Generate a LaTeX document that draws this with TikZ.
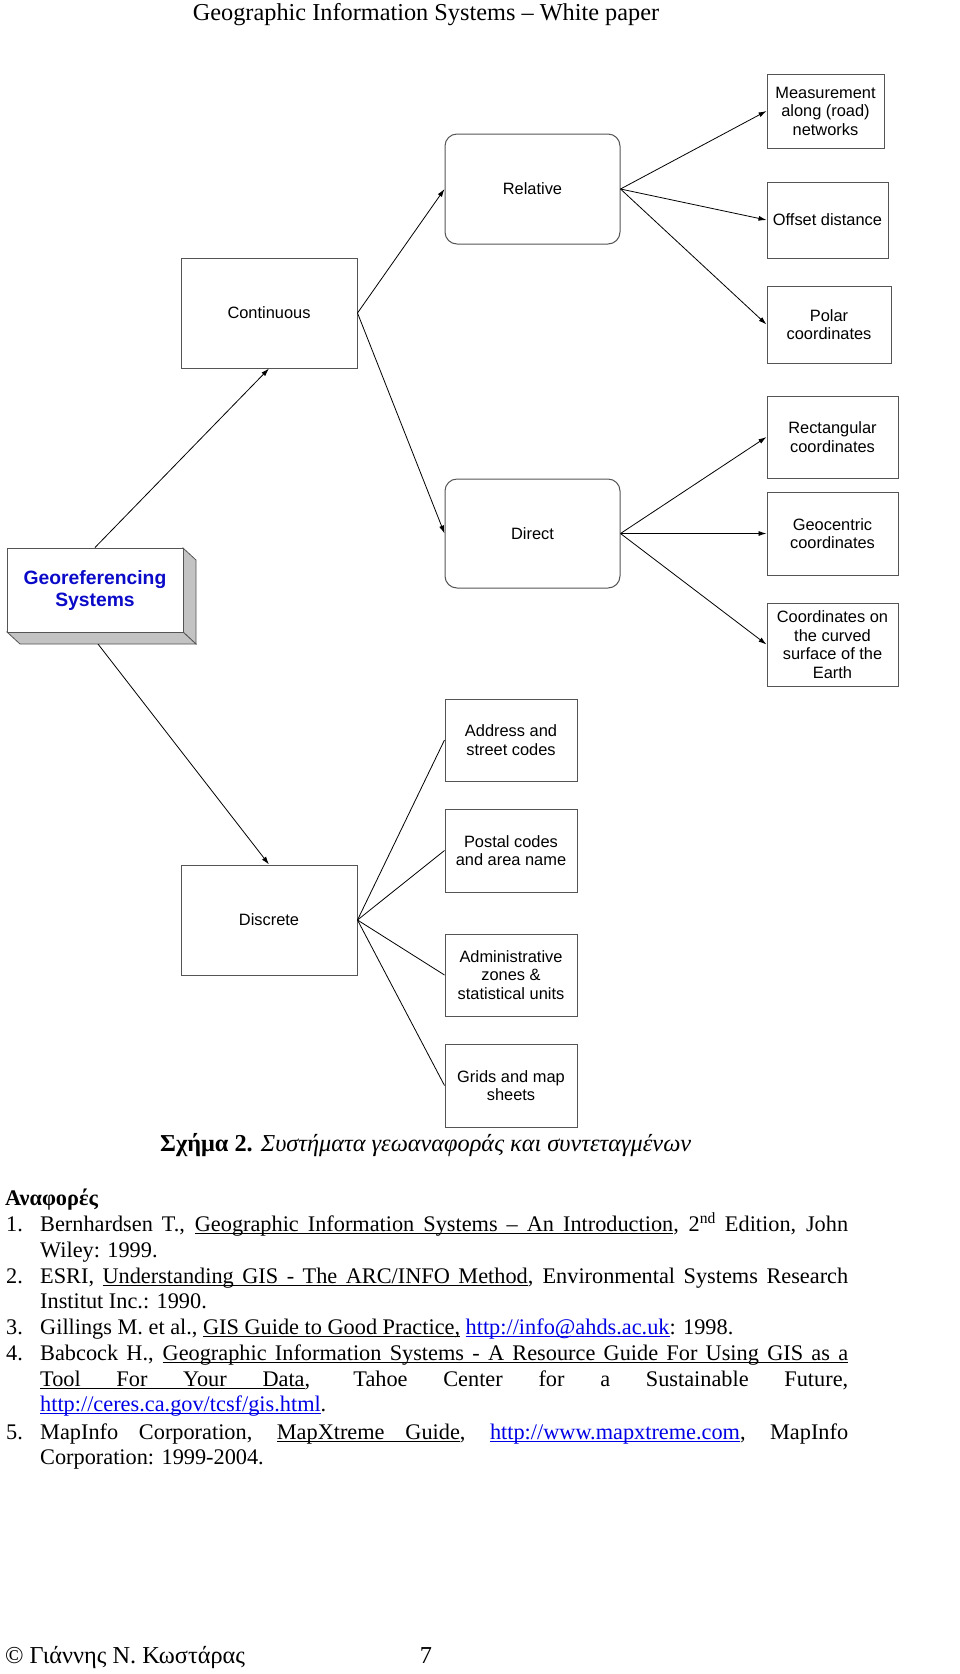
\documentclass[tikz,border=0pt]{standalone}
\usepackage{fontspec}
\setmainfont{Liberation Serif}
\newfontfamily\arialf{Liberation Sans}
\usetikzlibrary{arrows.meta}
\definecolor{linkblue}{RGB}{0,0,230}
\definecolor{georefblue}{RGB}{10,10,200}
\definecolor{boxgray}{RGB}{85,85,85}
\definecolor{sidegray}{RGB}{195,195,195}
% home-made underline that stretches with the spaces
\newcommand\ulw[1]{\setbox0\hbox{#1}\rlap{\rule[-3pt]{\wd0}{1pt}}\box0\relax}
\newcommand\ulspace{\leaders\hrule height -2pt depth 3pt\hskip\fontdimen2\font plus\fontdimen3\font minus\fontdimen4\font\relax}
\def\ulsplit#1 #2\relax{\ulw{#1}\ifx\relax#2\relax\else\ulspace\ulsplit#2\relax\fi}
\newcommand\myul[1]{\leavevmode\ulsplit#1 \relax}
\begin{document}
\begin{tikzpicture}[x=1pt,y=-1pt,
  box/.style={draw=boxgray, line width=1pt, fill=white, align=center,
    font=\arialf\fontsize{16.4}{18.5}\selectfont, inner sep=0pt, anchor=center},
  rbox/.style={box, rounded corners=12pt},
  conn/.style={line width=0.8pt, draw=black},
  arr/.style={conn, -{Latex[length=8pt,width=5pt]}},
  body/.style={anchor=base west, inner sep=0pt, font=\fontsize{22.3}{25.7}\selectfont},
  big/.style={inner sep=0pt, font=\fontsize{24.3}{28}\selectfont},
  ]
\useasboundingbox[fill=white] (0,0) rectangle (960,1674);

% header
\node[big, anchor=base] (hdr) at (426,20) {Geographic Information Systems – White paper};

% boxes
\node[rbox, minimum width=175pt, minimum height=110pt] (rel) at (532.5,189) {Relative};
\node[box, minimum width=176pt, minimum height=110pt] (cont) at (269,313) {Continuous};
\node[box, minimum width=117pt, minimum height=74pt] (meas) at (825.5,111) {Measurement\\along (road)\\networks};
\node[box, minimum width=121pt, minimum height=76pt] (off) at (827.5,220) {Offset distance};
\node[box, minimum width=124pt, minimum height=77pt] (polar) at (829,324.5) {Polar\\coordinates};
\node[box, minimum width=131pt, minimum height=82pt] (rect) at (832.5,437) {Rectangular\\coordinates};
\node[box, minimum width=131pt, minimum height=83pt] (geoc) at (832.5,533.5) {Geocentric\\coordinates};
\node[box, minimum width=131pt, minimum height=83pt] (curved) at (832.5,644.5) {Coordinates on\\the curved\\surface of the\\Earth};
\node[rbox, minimum width=175pt, minimum height=109pt] (direct) at (532.5,533.5) {Direct};

% georeferencing 3D box
\fill[sidegray, draw=boxgray, line width=0.8pt] (183,548) -- (196,560) -- (196,644) -- (183,632) -- cycle;
\fill[sidegray, draw=boxgray, line width=0.8pt] (7,632) -- (183,632) -- (196,644) -- (20,644) -- cycle;
\node[box, minimum width=176pt, minimum height=84pt, text=georefblue,
  font=\arialf\bfseries\fontsize{19.3}{22}\selectfont] (georef) at (95,590) {Georeferencing\\Systems};
\coordinate (gbot) at (98,644);

\node[box, minimum width=132pt, minimum height=82pt] (addr) at (511,740) {Address and\\street codes};
\node[box, minimum width=132pt, minimum height=83pt] (postal) at (511,850.5) {Postal codes\\and area name};
\node[box, minimum width=176pt, minimum height=110pt] (disc) at (269,920) {Discrete};
\node[box, minimum width=132pt, minimum height=82pt] (admin) at (511,975) {Administrative\\zones \&\\statistical units};
\node[box, minimum width=132pt, minimum height=83pt] (grids) at (511,1085.5) {Grids and map\\sheets};

% connectors
\draw[arr] (georef.north) -- (cont.south);
\draw[arr] (gbot) -- (disc.north);
\draw[arr] (cont.east) -- (rel.west);
\draw[arr] (cont.east) -- (direct.west);
\draw[arr] (rel.east) -- (meas.west);
\draw[arr] (rel.east) -- (off.west);
\draw[arr] (rel.east) -- (polar.west);
\draw[arr] (direct.east) -- (rect.west);
\draw[arr] (direct.east) -- (geoc.west);
\draw[arr] (direct.east) -- (curved.west);
\draw[conn] (disc.east) -- (addr.west);
\draw[conn] (disc.east) -- (postal.west);
\draw[conn] (disc.east) -- (admin.west);
\draw[conn] (disc.east) -- (grids.west);

% caption
\node[big, anchor=base west] (cap) at (160,1151) {\textbf{Σχήμα 2.} \textit{Συστήματα γεωαναφοράς και συντεταγμένων}};

% references
\node[body] (refh) at (5,1205) {\textbf{Αναφορές}};
\node[body] (n1) at (6,1231) {1.};
\node[body] (r1a) at (40,1231) {\makebox[808pt][s]{Bernhardsen T., \myul{Geographic Information Systems – An Introduction}, 2\textsuperscript{nd} Edition, John}};
\node[body] (r1b) at (40,1257) {Wiley: 1999.};
\node[body] (n2) at (6,1283) {2.};
\node[body] (r2a) at (40,1283) {\makebox[808pt][s]{ESRI, \myul{Understanding GIS - The ARC/INFO Method}, Environmental Systems Research}};
\node[body] (r2b) at (40,1308) {Institut Inc.: 1990.};
\node[body] (n3) at (6,1334) {3.};
\node[body] (r3a) at (40,1334) {Gillings M. et al., \myul{GIS Guide to Good Practice,} {\color{linkblue}\myul{http://info@ahds.ac.uk}}: 1998.};
\node[body] (n4) at (6,1360) {4.};
\node[body] (r4a) at (40,1360) {\makebox[808pt][s]{Babcock H., \myul{Geographic Information Systems - A Resource Guide For Using GIS as a}}};
\node[body] (r4b) at (40,1386) {\makebox[808pt][s]{\myul{Tool For Your Data}, Tahoe Center for a Sustainable Future,}};
\node[body] (r4c) at (40,1411) {{\color{linkblue}\myul{http://ceres.ca.gov/tcsf/gis.html}}.};
\node[body] (n5) at (6,1439) {5.};
\node[body] (r5a) at (40,1439) {\makebox[808pt][s]{MapInfo Corporation, \myul{MapXtreme Guide}, {\color{linkblue}\myul{http://www.mapxtreme.com}}, MapInfo}};
\node[body] (r5b) at (40,1464) {Corporation: 1999-2004.};

% footer
\node[big, anchor=base west] (foot) at (5,1663) {© Γιάννης Ν. Κωστάρας};
\node[big, anchor=base] (pg) at (426,1663) {7};
\end{tikzpicture}
\end{document}
